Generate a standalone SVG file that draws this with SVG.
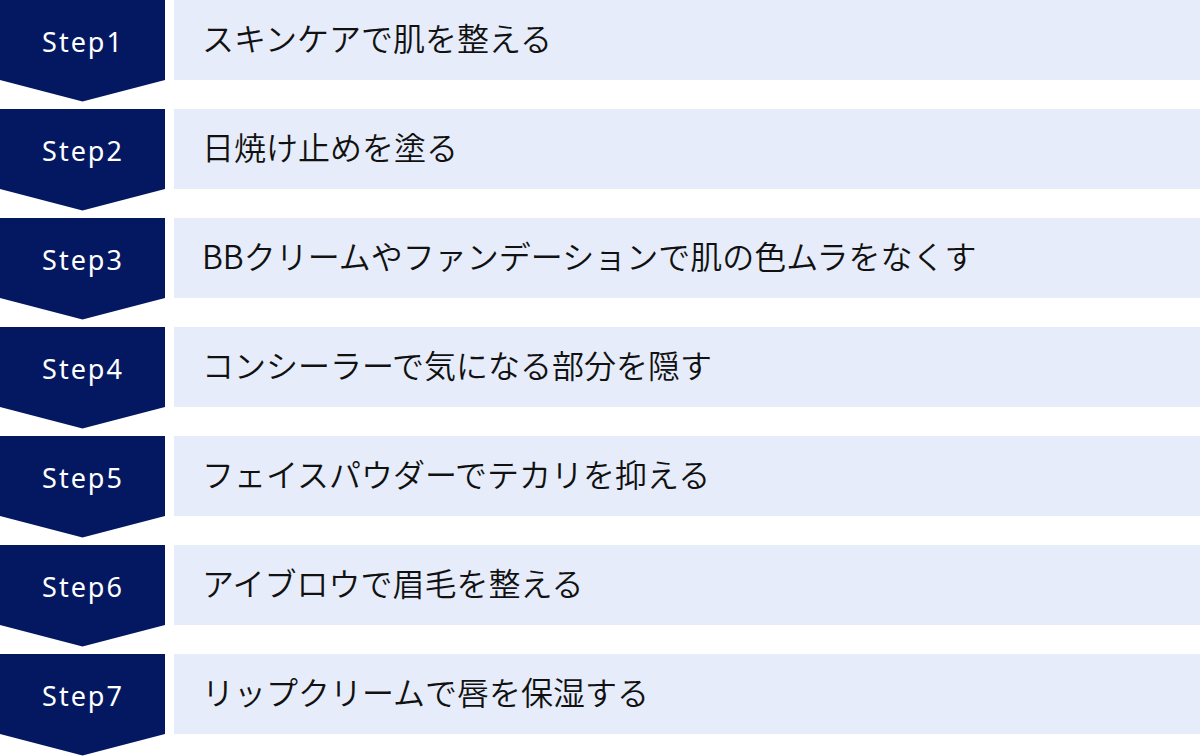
<svg xmlns="http://www.w3.org/2000/svg" width="1200" height="756" viewBox="0 0 1200 756">
<defs>
<style>
.chev{fill:#041862}
.bar{fill:#E6ECF9}
.step{font-family:"Noto Sans","Open Sans",sans-serif;font-size:27px;font-weight:400;fill:#ffffff;text-anchor:middle;letter-spacing:2px}
.lbl{font-family:"Noto Sans CJK JP","Noto Sans",sans-serif;font-size:32px;font-weight:350;fill:#111111}
</style>
<polygon id="chevShape" points="0,0 165,0 165,80 82.5,101.5 0,80"/>
</defs>
<g id="connectors"></g>
<g id="step1" transform="translate(0,0)">
<use href="#chevShape" class="chev"/>
<rect class="bar" x="174" y="0" width="1026" height="80"/>
<text class="step" x="83" y="52">Step1</text>
<text class="lbl" x="202" y="51">スキンケアで肌を整える</text>
</g>
<g id="step2" transform="translate(0,109)">
<use href="#chevShape" class="chev"/>
<rect class="bar" x="174" y="0" width="1026" height="80"/>
<text class="step" x="83" y="52">Step2</text>
<text class="lbl" x="202" y="51">日焼け止めを塗る</text>
</g>
<g id="step3" transform="translate(0,218)">
<use href="#chevShape" class="chev"/>
<rect class="bar" x="174" y="0" width="1026" height="80"/>
<text class="step" x="83" y="52">Step3</text>
<text class="lbl" x="202" y="51">BBクリームやファンデーションで肌の色ムラをなくす</text>
</g>
<g id="step4" transform="translate(0,327)">
<use href="#chevShape" class="chev"/>
<rect class="bar" x="174" y="0" width="1026" height="80"/>
<text class="step" x="83" y="52">Step4</text>
<text class="lbl" x="202" y="51">コンシーラーで気になる部分を隠す</text>
</g>
<g id="step5" transform="translate(0,436)">
<use href="#chevShape" class="chev"/>
<rect class="bar" x="174" y="0" width="1026" height="80"/>
<text class="step" x="83" y="52">Step5</text>
<text class="lbl" x="202" y="51">フェイスパウダーでテカリを抑える</text>
</g>
<g id="step6" transform="translate(0,545)">
<use href="#chevShape" class="chev"/>
<rect class="bar" x="174" y="0" width="1026" height="80"/>
<text class="step" x="83" y="52">Step6</text>
<text class="lbl" x="202" y="51">アイブロウで眉毛を整える</text>
</g>
<g id="step7" transform="translate(0,654)">
<use href="#chevShape" class="chev"/>
<rect class="bar" x="174" y="0" width="1026" height="80"/>
<text class="step" x="83" y="52">Step7</text>
<text class="lbl" x="202" y="51">リップクリームで唇を保湿する</text>
</g>
</svg>
